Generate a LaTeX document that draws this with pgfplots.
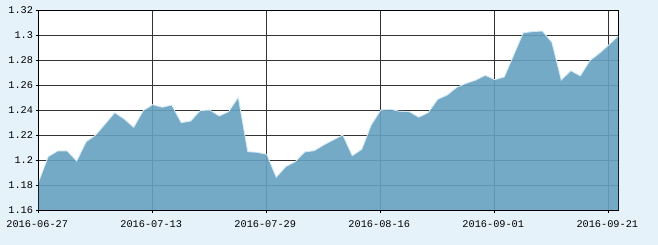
\documentclass[border=0pt]{standalone}
\usepackage{pgfplots}
\usepackage{pgfplotstable}
\pgfplotsset{compat=1.18}
\usepackage{fontspec}
\setmainfont{Liberation Mono}
\definecolor{bgcol}{RGB}{230,242,250}
\definecolor{fillcol}{RGB}{103,161,193}
\definecolor{edgecol}{RGB}{214,234,246}
\definecolor{gridcol}{RGB}{51,51,51}
\pgfplotstableread{
i v
0 1.1827
1 1.2027
2 1.2073
3 1.2073
4 1.1992
5 1.2147
6 1.2201
7 1.2289
8 1.2380
9 1.2329
10 1.2262
11 1.2396
12 1.2444
13 1.2423
14 1.2441
15 1.2299
16 1.2313
17 1.2396
18 1.2401
19 1.2353
20 1.2388
21 1.2503
22 1.2067
23 1.2062
24 1.2046
25 1.1862
26 1.1947
27 1.1987
28 1.2065
29 1.2075
30 1.2121
31 1.2161
32 1.2201
33 1.2035
34 1.2086
35 1.2281
36 1.2401
37 1.2407
38 1.2391
39 1.2388
40 1.2343
41 1.2380
42 1.2487
43 1.2521
44 1.2583
45 1.2615
46 1.2641
47 1.2679
48 1.2644
49 1.2666
50 1.2842
51 1.3020
52 1.3029
53 1.3034
54 1.2944
55 1.2641
56 1.2716
57 1.2674
58 1.2796
59 1.2855
60 1.2922
61 1.2994
}\navtable
\begin{document}
\begin{tikzpicture}
\fill[bgcol] (0,0) rectangle (658bp,245bp);
\useasboundingbox (0,0) rectangle (658bp,245bp);
\begin{axis}[
  at={(38.7bp,35bp)}, anchor=south west,
  width=579.6bp, height=199.7bp, scale only axis,
  xmin=0, xmax=61, ymin=1.16, ymax=1.32,
  xtick={0,12,24,36,48,60},
  xticklabels={2016-06-27,2016-07-13,2016-07-29,2016-08-16,2016-09-01,2016-09-21},
  ytick={1.16,1.18,1.2,1.22,1.24,1.26,1.28,1.3,1.32},
  yticklabels={1.16,1.18,1.2,1.22,1.24,1.26,1.28,1.3,1.32},
  grid=major,
  major grid style={gridcol, line width=0.8bp},
  axis line style={black, line width=0.8bp},
  tick align=outside,
  major tick length=3bp,
  tick style={black, line width=0.8bp},
  xtick pos=bottom, ytick pos=left,
  ticklabel style={font=\fontsize{10.3}{12}\selectfont, text=black},
  xticklabel style={anchor=north, inner sep=0pt, yshift=-7.5bp, xshift=-1.5bp},
  yticklabel style={anchor=east, inner sep=0pt, xshift=-2.5bp},
  axis background/.style={fill=white},
  clip=true,
]
\addplot[fill=fillcol, fill opacity=0.9, draw=none] table[x=i, y=v] {\navtable} \closedcycle;
\addplot[edgecol, line width=0.8bp, mark=none] table[x=i, y=v] {\navtable};
\draw[black, line width=0.8bp] (rel axis cs:0,0) rectangle (rel axis cs:1,1);
\end{axis}
\end{tikzpicture}
\end{document}
